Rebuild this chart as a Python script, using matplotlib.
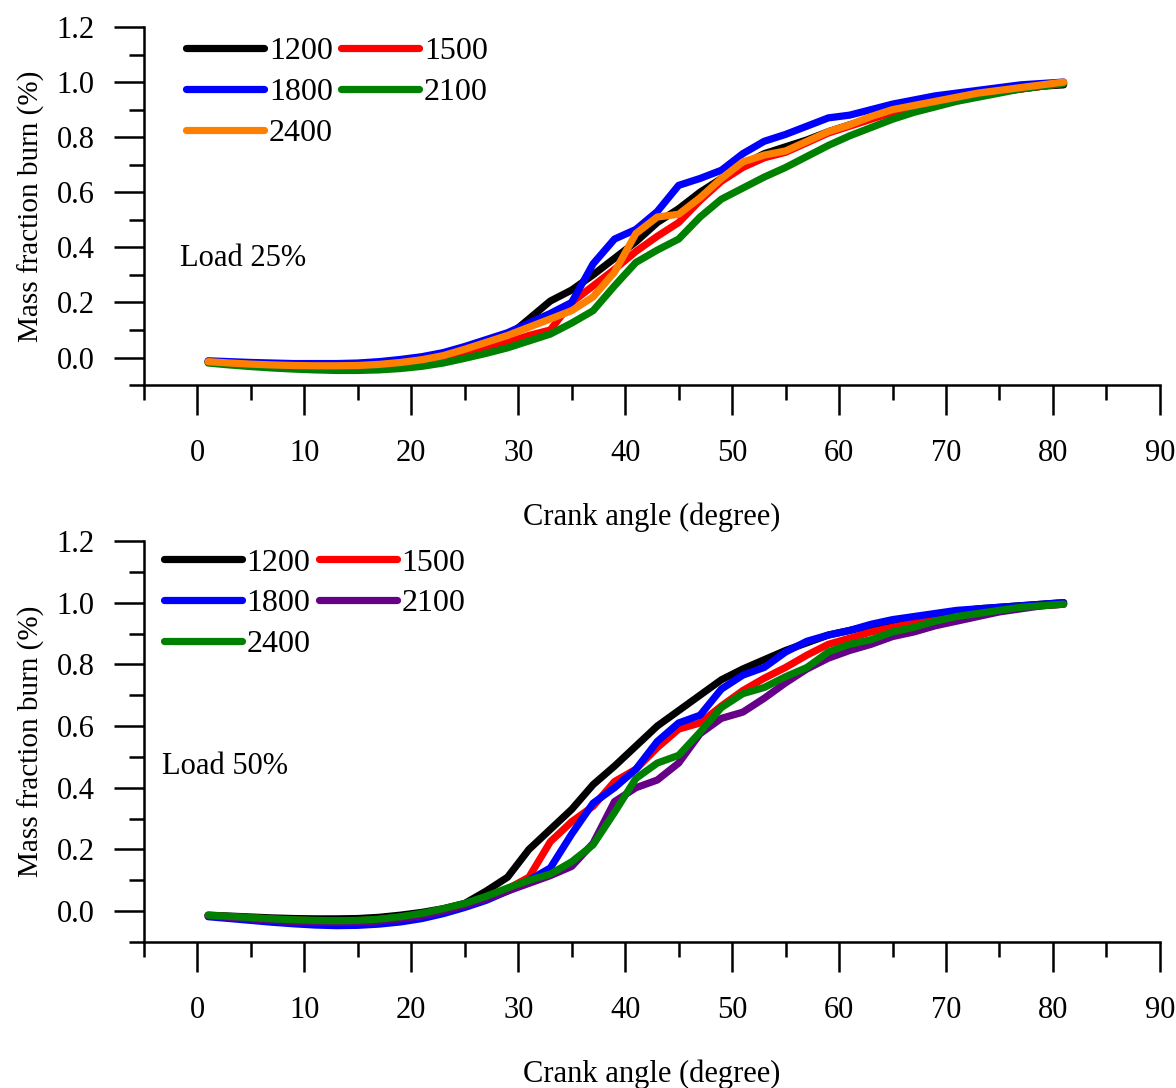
import matplotlib
matplotlib.use("Agg")
import matplotlib.pyplot as plt
from matplotlib.ticker import MultipleLocator
import numpy as np

plt.rcParams['font.family'] = ['Liberation Serif', 'DejaVu Serif']

# Crank angle (degree)
crank = [1, 3, 5, 7, 9, 11, 13, 15, 17, 19, 21, 23, 25, 27, 29, 31, 33, 35, 37, 39,
         41, 43, 45, 47, 49, 51, 53, 55, 57, 59, 61, 63, 65, 67, 69, 71, 73, 75, 77, 79, 81]

# ---- Load 25% ----
l25_labels = ["1200", "1500", "1800", "2100", "2400"]
l25_colors = ["#000000", "#ff0000", "#0000ff", "#008000", "#ff8000"]
l25_1200 = [-0.015, -0.02, -0.024, -0.027, -0.029, -0.03, -0.03, -0.029, -0.026, -0.02, -0.011,
            0.002, 0.022, 0.045, 0.075, 0.14, 0.205, 0.245, 0.30, 0.36, 0.42, 0.49, 0.54, 0.60,
            0.65, 0.70, 0.74, 0.765, 0.79, 0.82, 0.845, 0.87, 0.89, 0.91, 0.93, 0.945, 0.955,
            0.965, 0.975, 0.985, 0.99]
l25_1500 = [-0.017, -0.022, -0.026, -0.03, -0.033, -0.035, -0.036, -0.036, -0.033, -0.028, -0.02,
            -0.006, 0.012, 0.032, 0.055, 0.08, 0.10, 0.20, 0.26, 0.32, 0.385, 0.44, 0.49, 0.57,
            0.64, 0.69, 0.725, 0.745, 0.78, 0.815, 0.84, 0.865, 0.89, 0.91, 0.93, 0.945, 0.955,
            0.965, 0.975, 0.985, 0.995]
l25_1800 = [-0.012, -0.015, -0.018, -0.02, -0.022, -0.022, -0.022, -0.02, -0.015, -0.007, 0.003,
            0.018, 0.04, 0.065, 0.09, 0.125, 0.16, 0.20, 0.34, 0.43, 0.465, 0.53, 0.625, 0.65,
            0.68, 0.74, 0.785, 0.81, 0.84, 0.87, 0.88, 0.90, 0.92, 0.935, 0.95, 0.96, 0.97,
            0.98, 0.99, 0.995, 1.0]
l25_2100 = [-0.02, -0.027, -0.033, -0.038, -0.042, -0.045, -0.047, -0.047, -0.045, -0.04, -0.032,
            -0.02, -0.003, 0.015, 0.035, 0.06, 0.085, 0.125, 0.17, 0.26, 0.345, 0.39, 0.43, 0.51,
            0.575, 0.615, 0.655, 0.69, 0.73, 0.77, 0.805, 0.835, 0.865, 0.89, 0.91, 0.93, 0.945,
            0.96, 0.975, 0.985, 0.995]
l25_2400 = [-0.015, -0.02, -0.024, -0.027, -0.029, -0.03, -0.03, -0.029, -0.025, -0.018, -0.008,
            0.007, 0.03, 0.055, 0.08, 0.11, 0.14, 0.17, 0.22, 0.31, 0.45, 0.51, 0.52, 0.58,
            0.65, 0.71, 0.735, 0.75, 0.785, 0.82, 0.845, 0.875, 0.90, 0.915, 0.93, 0.945, 0.96,
            0.97, 0.98, 0.99, 1.0]

# ---- Load 50% ----
l50_labels = ["1200", "1500", "1800", "2100", "2400"]
l50_colors = ["#000000", "#ff0000", "#0000ff", "#660088", "#008000"]
l50_1200 = [-0.013, -0.016, -0.019, -0.022, -0.024, -0.025, -0.025, -0.024, -0.02, -0.013, -0.004,
            0.008, 0.025, 0.065, 0.11, 0.20, 0.265, 0.33, 0.41, 0.47, 0.535, 0.60, 0.65, 0.70,
            0.75, 0.785, 0.815, 0.845, 0.87, 0.895, 0.91, 0.925, 0.94, 0.95, 0.96, 0.97, 0.98,
            0.985, 0.99, 0.995, 1.0]
l50_1500 = [-0.014, -0.018, -0.022, -0.026, -0.029, -0.031, -0.032, -0.031, -0.027, -0.02, -0.01,
            0.005, 0.022, 0.045, 0.072, 0.11, 0.225, 0.29, 0.34, 0.42, 0.46, 0.53, 0.59, 0.61,
            0.665, 0.715, 0.755, 0.79, 0.83, 0.865, 0.885, 0.905, 0.92, 0.935, 0.95, 0.96, 0.97,
            0.98, 0.985, 0.99, 0.995]
l50_1800 = [-0.018, -0.024, -0.03, -0.036, -0.041, -0.045, -0.047, -0.046, -0.042, -0.035, -0.024,
            -0.008, 0.012, 0.035, 0.065, 0.10, 0.14, 0.25, 0.35, 0.40, 0.46, 0.55, 0.61, 0.635,
            0.72, 0.765, 0.79, 0.84, 0.875, 0.895, 0.91, 0.93, 0.945, 0.955, 0.965, 0.975, 0.98,
            0.985, 0.99, 0.995, 1.0]
l50_2100 = [-0.015, -0.02, -0.025, -0.03, -0.034, -0.036, -0.037, -0.036, -0.032, -0.025, -0.015,
            0.0, 0.018, 0.04, 0.065, 0.09, 0.115, 0.145, 0.22, 0.355, 0.40, 0.425, 0.48, 0.575,
            0.625, 0.645, 0.69, 0.74, 0.785, 0.82, 0.845, 0.865, 0.89, 0.905, 0.925, 0.94, 0.955,
            0.97, 0.98, 0.99, 0.995]
l50_2400 = [-0.013, -0.017, -0.021, -0.025, -0.028, -0.03, -0.031, -0.03, -0.026, -0.018, -0.007,
            0.008, 0.025, 0.048, 0.075, 0.10, 0.12, 0.16, 0.215, 0.32, 0.43, 0.48, 0.505, 0.58,
            0.66, 0.705, 0.725, 0.76, 0.79, 0.84, 0.865, 0.88, 0.905, 0.92, 0.94, 0.955, 0.965,
            0.975, 0.985, 0.99, 0.995]

panels = [
    dict(series=[l25_1200, l25_1500, l25_1800, l25_2100, l25_2400], labels=l25_labels,
         colors=l25_colors, note="Load 25%", note_xy=(-1.6, 0.36),
         rect=[0.1224, 0.6461, 0.8639, 0.3291], leg_anchor=(0.035, 0.99)),
    dict(series=[l50_1200, l50_1500, l50_1800, l50_2100, l50_2400], labels=l50_labels,
         colors=l50_colors, note="Load 50%", note_xy=(-3.3, 0.468),
         rect=[0.1224, 0.1342, 0.8639, 0.3686], leg_anchor=(0.013, 0.998)),
]

FS = 22
LFS = 23
fig = plt.figure(figsize=(11.76, 10.88), dpi=100)
for p in panels:
    ax = fig.add_axes(p["rect"])
    handles = []
    for ys, lab, col in zip(p["series"], p["labels"], p["colors"]):
        h, = ax.plot(crank, ys, color=col, lw=5.2, label=lab, solid_capstyle='round',
                     solid_joinstyle='round')
        handles.append(h)
    ax.set_xlim(-5, 90)
    ax.set_ylim(-0.1, 1.2)
    ax.set_xticks(range(0, 91, 10))
    ax.xaxis.set_minor_locator(MultipleLocator(5))
    yt = [0.0, 0.2, 0.4, 0.6, 0.8, 1.0, 1.2]
    ax.set_yticks(yt)
    ax.set_yticklabels([f"{v:.1f}" for v in yt])
    ax.yaxis.set_minor_locator(MultipleLocator(0.1))
    for s in ["top", "right"]:
        ax.spines[s].set_visible(False)
    for s in ["left", "bottom"]:
        ax.spines[s].set_linewidth(1.8)
    ax.tick_params(which='major', direction='out', length=21.5, width=1.8, labelsize=FS)
    ax.tick_params(axis='x', which='major', pad=17.5)
    ax.tick_params(axis='y', which='major', pad=14)
    ax.tick_params(which='minor', direction='out', length=10.5, width=1.8)
    ax.set_xlabel("Crank angle (degree)", fontsize=FS, labelpad=24.5)
    ax.set_ylabel("Mass fraction burn (%)", fontsize=FS - 1, labelpad=8)
    ax.text(p["note_xy"][0], p["note_xy"][1], p["note"], fontsize=FS,
            ha='left', va='center')
    # row-wise legend order for 2 columns: col1 = 1200,1800,2400 ; col2 = 1500,2100
    order = [0, 2, 4, 1, 3]
    ax.legend([handles[i] for i in order], [p["labels"][i] for i in order],
              loc='upper left', bbox_to_anchor=p["leg_anchor"], ncol=2, frameon=False,
              fontsize=LFS, handlelength=2.45, handletextpad=0.15, columnspacing=0.25,
              labelspacing=0.36, borderaxespad=0.0, borderpad=0.2)

fig.savefig("out.png", dpi=100)
